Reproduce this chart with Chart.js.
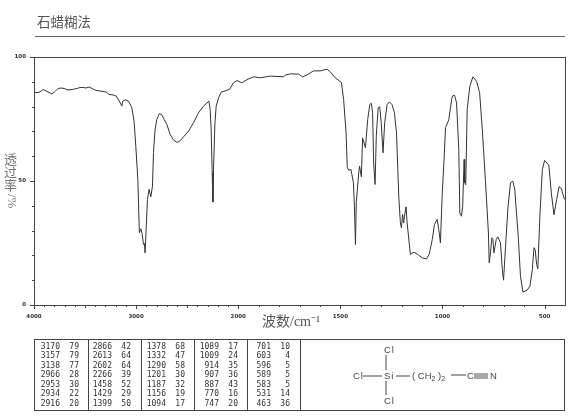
<!DOCTYPE html>
<html>
<head>
<meta charset="utf-8">
<script src="https://cdn.jsdelivr.net/npm/chart.js@4"></script>
<style>
  html, body { margin: 0; padding: 0; background: #fff; }
  #page { position: relative; width: 570px; height: 417px; overflow: hidden; color: #444; filter: blur(0.3px); }
  #chart-box { position: absolute; left: 0; top: 0; width: 570px; height: 330px; }
  #title { position: absolute; left: 37px; top: 11px; font: 13.5px "Noto Sans CJK SC"; color: #555; }
  #title-rule { position: absolute; left: 35px; top: 36px; width: 530px; height: 1px; background: #666; }
  #y-title { position: absolute; left: 4px; top: 152px; width: 13px; font: 13px/13px "Noto Sans CJK SC"; color: #777; text-align: center; }
  #y-title div { height: 13px; }
  #y-title .turned { height: 17px; margin-top: 1px; line-height: 13px; white-space: nowrap; transform: rotate(90deg); transform-origin: 6.5px 8.5px; font-family: "Liberation Serif"; }
  #x-title { position: absolute; left: 262px; top: 310px; font: 14px "Liberation Serif", "Noto Sans CJK SC"; color: #555; white-space: nowrap; }
  #peak-box { position: absolute; left: 34px; top: 339px; width: 529px; height: 70px; border: 1px solid #444; }
  .peak-sep { position: absolute; top: 0; width: 1px; height: 70px; background: #444; }
  .peak-cell { position: absolute; width: 30px; font: 8px/9px "DejaVu Sans Mono"; color: #333; text-align: right; }
  #structure { position: absolute; left: 0; top: 0; }
  #structure text { font: 9.5px "Liberation Sans"; fill: #444; letter-spacing: 1px; }
</style>
</head>
<body>
<div id="page">
  <div id="chart-box"><canvas id="myChart"></canvas></div>
  <div id="title">石蜡糊法</div>
  <div id="title-rule"></div>
  <div id="y-title"><div>透</div><div>过</div><div>率</div><div class="turned">/%</div></div>
  <div id="x-title">波数/cm⁻¹</div>
  <div id="peak-box"></div>
  <svg id="structure" width="570" height="417">
    <text x="384" y="353">Cl</text>
    <line x1="386" y1="355" x2="386" y2="370" stroke="#444"/>
    <text x="353" y="379">Cl</text>
    <line x1="363" y1="376" x2="382" y2="376" stroke="#444"/>
    <text x="384" y="379">Si</text>
    <line x1="396" y1="376" x2="410" y2="376" stroke="#444"/>
    <text x="412" y="379" style="letter-spacing:0">( CH<tspan font-size="7" dy="2">2</tspan><tspan dy="-2"> )</tspan><tspan font-size="7" dy="2">2</tspan></text>
    <line x1="451" y1="375" x2="466" y2="375" stroke="#444"/>
    <text x="467" y="379">C</text>
    <line x1="474" y1="374" x2="488" y2="374" stroke="#555"/>
    <line x1="474" y1="376" x2="488" y2="376" stroke="#555"/>
    <line x1="474" y1="378" x2="488" y2="378" stroke="#555"/>
    <text x="490" y="379">N</text>
    <line x1="386" y1="381" x2="386" y2="395" stroke="#444"/>
    <text x="384" y="404">Cl</text>
  </svg>
</div>
<script>
const wavenumbers = [3995, 3961, 3941, 3912, 3882, 3853, 3824, 3794, 3765, 3735, 3706, 3667, 3627, 3578, 3549, 3520, 3490, 3461, 3431, 3392, 3353, 3294, 3265, 3225, 3196, 3157, 3140, 3130, 3108, 3075, 3042, 3020, 3003, 2983, 2968, 2954, 2941, 2928, 2919, 2912, 2902, 2889, 2873, 2856, 2840, 2830, 2814, 2797, 2772, 2748, 2725, 2699, 2667, 2634, 2601, 2575, 2536, 2487, 2438, 2389, 2340, 2287, 2275, 2265, 2255, 2248, 2242, 2228, 2216, 2193, 2167, 2111, 2086, 2046, 2013, 1982, 1957, 1925, 1892, 1843, 1778, 1770, 1745, 1704, 1685, 1663, 1631, 1598, 1565, 1549, 1525, 1495, 1484, 1472, 1466, 1459, 1448, 1436, 1431, 1426, 1422, 1410, 1406, 1397, 1391, 1377, 1366, 1356, 1348, 1342, 1337, 1330, 1324, 1315, 1307, 1300, 1291, 1283, 1271, 1260, 1247, 1235, 1225, 1214, 1206, 1201, 1195, 1190, 1186, 1178, 1173, 1157, 1140, 1121, 1099, 1078, 1065, 1050, 1039, 1026, 1018, 1010, 1001, 993, 985, 969, 961, 952, 941, 931, 920, 915, 907, 901, 894, 891, 886, 879, 866, 851, 833, 818, 805, 789, 775, 771, 764, 758, 753, 748, 737, 729, 716, 707, 701, 691, 680, 667, 655, 646, 629, 618, 606, 585, 572, 560, 552, 546, 539, 533, 523, 511, 500, 479, 467, 454, 441, 429, 418, 405, 400];
const transmittance = [85.7, 85.7, 85.9, 86.9, 86.3, 85.7, 85.1, 86.1, 87.3, 87.5, 87.3, 86.7, 86.9, 87.3, 87.7, 87.7, 87.5, 87.9, 87.3, 86.5, 86.3, 85.9, 84.9, 84.7, 84.3, 81.7, 80.2, 82.2, 82.8, 82.2, 79.6, 74.1, 64, 50.6, 29.1, 30.7, 28.8, 24.4, 24.8, 21, 30.4, 42.5, 46.6, 43.6, 47.9, 61.4, 70.8, 74.8, 77.2, 76.7, 74.8, 72.8, 68.8, 66.5, 65.6, 66, 67.8, 70.1, 73.5, 77.5, 80.2, 82.2, 78.8, 70.8, 53.3, 41.5, 54.6, 73.5, 80.2, 83.5, 85.8, 86.6, 86.9, 89.6, 90.5, 89.6, 90.9, 92, 91.6, 92.3, 92, 92.7, 93.2, 93.1, 92, 92.8, 94.4, 94.4, 95.1, 94, 91.6, 89.8, 82.9, 69.4, 55.3, 54.4, 54.6, 49.3, 39.8, 24.4, 41.2, 53.3, 56, 51.7, 67.4, 63.4, 74.8, 80.8, 81.3, 77.5, 57.3, 48.6, 68.1, 79.5, 79.9, 73.5, 61.4, 73.5, 80.8, 81.9, 80.8, 77.5, 69.4, 43.9, 33.1, 31.1, 36.5, 33.1, 35.8, 39.6, 33.1, 20.4, 21.3, 20.4, 19, 18.6, 20.4, 26.4, 32.5, 34.5, 30.4, 25.1, 45.2, 57.3, 71.5, 74.7, 79.5, 84.2, 84.6, 81.5, 62.7, 37.2, 35.8, 39.8, 58.7, 49.3, 48.5, 78.8, 88.2, 92, 90.2, 85.6, 70.8, 49.3, 29.1, 17, 21.7, 27.1, 26.4, 21, 26.4, 27.5, 25.1, 14.3, 10, 23.7, 38.5, 49.3, 49.9, 46.6, 27.7, 11.6, 5.2, 6, 7.6, 14.3, 23.1, 22.4, 16.3, 14.6, 35.8, 54.6, 58.3, 56.4, 45.2, 36.4, 42.5, 47.7, 47, 43.2, 42.5];

const xLabelTicks = [4000, 3000, 2000, 1500, 1000, 500];
const xMinorTicks = [3900, 3800, 3700, 3600, 3400, 3300, 3200, 3100, 2900, 2800, 2700, 2600, 2400, 2300, 2200, 2100, 1900, 1800, 1700, 1600, 1400, 1300, 1200, 1100, 900, 800, 700, 600];
const xMiddleTicks = [3500, 2500];
const yLabelTicks = [0, 50, 100];
const yMinorTicks = [10, 20, 30, 40, 60, 70, 80, 90];

const peakWavenumbers = [
  [3170, 3157, 3138, 2966, 2953, 2934, 2916],
  [2866, 2613, 2602, 2266, 1458, 1429, 1399],
  [1378, 1332, 1290, 1201, 1187, 1156, 1094],
  [1089, 1009, 914, 907, 887, 770, 747],
  [701, 603, 596, 589, 583, 531, 463]
];
const peakValues = [
  [79, 79, 77, 28, 30, 22, 20],
  [42, 64, 64, 39, 52, 29, 50],
  [68, 47, 58, 30, 32, 19, 17],
  [17, 24, 35, 36, 43, 16, 20],
  [10, 4, 5, 5, 5, 14, 36]
];

// the spectrum axis doubles its scale below 2000 cm-1
function axisPos(w) {
  if (w >= 2000) return (4000 - w) / 1000;
  return 2 + (2000 - w) / 500;
}

function axisWave(pos) {
  if (pos <= 2) return Math.round(4000 - pos * 1000);
  return Math.round(2000 - (pos - 2) * 500);
}

const points = wavenumbers.map(function (w, i) {
  return { x: axisPos(w), y: transmittance[i] };
});

const frameAndTicks = {
  id: 'frameAndTicks',
  afterDraw: function (chart) {
    const c = chart.ctx, area = chart.chartArea, xs = chart.scales.x, ys = chart.scales.y;
    c.save();
    c.strokeStyle = '#444';
    c.lineWidth = 1;
    c.strokeRect(area.left + 0.5, area.top + 0.5, area.right - area.left, area.bottom - area.top);
    function xTick(w, len) {
      const p = Math.round(xs.getPixelForValue(axisPos(w))) + 0.5;
      c.beginPath(); c.moveTo(p, area.bottom); c.lineTo(p, area.bottom + len); c.stroke();
    }
    function yTick(v, len) {
      const p = Math.round(ys.getPixelForValue(v)) + 0.5;
      c.beginPath(); c.moveTo(area.left, p); c.lineTo(area.left - len, p); c.stroke();
    }
    xMinorTicks.forEach(function (w) { xTick(w, 2); });
    xMiddleTicks.forEach(function (w) { xTick(w, 3); });
    xLabelTicks.forEach(function (w) { xTick(w, 4); });
    yMinorTicks.forEach(function (v) { yTick(v, 2); });
    yLabelTicks.forEach(function (v) { yTick(v, 4); });
    c.restore();
  }
};

new Chart(document.getElementById('myChart'), {
  type: 'line',
  data: {
    datasets: [{
      data: points,
      borderColor: '#333',
      borderWidth: 1,
      pointRadius: 0,
      tension: 0
    }]
  },
  options: {
    responsive: true,
    maintainAspectRatio: false,
    animation: false,
    layout: { padding: { left: 0, top: 57, right: 5, bottom: 0 } },
    plugins: { legend: { display: false }, tooltip: { enabled: false } },
    scales: {
      x: {
        type: 'linear',
        min: 0,
        max: axisPos(400),
        grid: { display: false },
        border: { display: false },
        afterBuildTicks: function (scale) {
          scale.ticks = xLabelTicks.map(function (w) { return { value: axisPos(w) }; });
        },
        afterFit: function (scale) { scale.height = 25; },
        ticks: {
          autoSkip: false,
          maxRotation: 0,
          padding: 0,
          color: '#333',
          font: { family: 'DejaVu Sans', size: 5.5, weight: 'bold' },
          callback: function (value) { return String(axisWave(value)); }
        }
      },
      y: {
        min: 0,
        max: 100,
        grid: { display: false },
        border: { display: false },
        afterBuildTicks: function (scale) {
          scale.ticks = yLabelTicks.map(function (v) { return { value: v }; });
        },
        afterFit: function (scale) { scale.width = 34; },
        ticks: {
          padding: 0,
          color: '#333',
          font: { family: 'DejaVu Sans', size: 5.5, weight: 'bold' }
        }
      }
    }
  },
  plugins: [frameAndTicks]
});

// peak table under the spectrum
const peakBox = document.getElementById('peak-box');
const sepLefts = [53, 106, 159, 212, 265];
const waveRights = [25, 77, 131, 184, 236];
const valueRights = [44, 96, 150, 203, 255];

function addCell(text, right, top) {
  const cell = document.createElement('div');
  cell.className = 'peak-cell';
  cell.style.left = (right - 30) + 'px';
  cell.style.top = top + 'px';
  cell.textContent = text;
  peakBox.appendChild(cell);
}

peakWavenumbers.forEach(function (col, c) {
  const sep = document.createElement('div');
  sep.className = 'peak-sep';
  sep.style.left = sepLefts[c] + 'px';
  peakBox.appendChild(sep);
  col.forEach(function (w, r) {
    const top = 1.5 + r * 9.5;
    addCell(w, waveRights[c], top);
    addCell(peakValues[c][r], valueRights[c], top);
  });
});
</script>
</body>
</html>
